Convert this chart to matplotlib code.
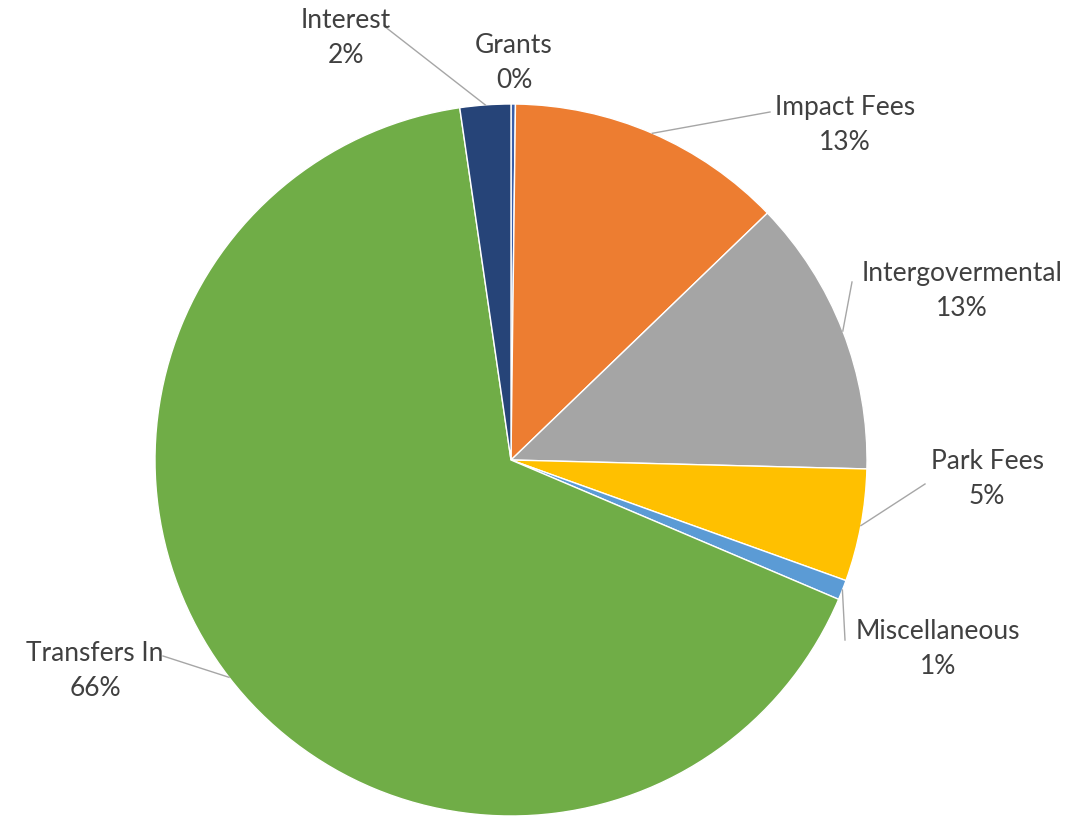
import matplotlib.pyplot as plt
import numpy as np

# revenue sources, clockwise from 12 o'clock (percent of total)
sources = ["Grants", "Impact Fees", "Intergovermental", "Park Fees",
           "Miscellaneous", "Transfers In", "Interest"]
shares = [0.2, 12.6, 12.6, 5.1, 0.9, 66.3, 2.3]
colors = ["#3A5FA8", "#ED7D31", "#A5A5A5", "#FFC000",
          "#5B9BD5", "#70AD47", "#264478"]

# label layout in pixels: text block centre, leader end point (None = no leader)
W, H = 1092, 817
CX, CY, R = 511, 460, 356
label_xy = [(514, 63), (845, 125), (962, 291), (987, 479),
            (938, 649), (95, 671), (346, 38)]
leader_end = [None, (770, 112), (852, 282), (925, 484),
              (845, 640), (163, 656), (384, 26)]


def to_data(p):
    return ((p[0] - CX) / R, (CY - p[1]) / R)


fig = plt.figure(figsize=(W / 100, H / 100), dpi=100)
ax = fig.add_axes([(CX - R) / W, (H - CY - R) / H, 2 * R / W, 2 * R / H])

wedges, _ = ax.pie(shares, colors=colors, startangle=90, counterclock=False,
                   radius=1.0, wedgeprops=dict(edgecolor="white", linewidth=1.0))
ax.set_xlim(-1, 1)
ax.set_ylim(-1, 1)
ax.set_aspect("equal")
ax.axis("off")

total = sum(shares)
for w, name, val, lxy, lend in zip(wedges, sources, shares, label_xy, leader_end):
    pct = f"{round(100 * val / total):.0f}%"
    tx, ty = to_data(lxy)
    ax.text(tx, ty, f"{name}\n{pct}", ha="center", va="center",
            fontsize=19, family="Lato", color="#404040", linespacing=1.5,
            clip_on=False)
    if lend is not None:
        mid = np.deg2rad((w.theta1 + w.theta2) / 2)
        sx, sy = np.cos(mid), np.sin(mid)
        ex, ey = to_data(lend)
        ax.plot([sx, ex], [sy, ey], color="#A6A6A6", lw=1.0, clip_on=False)

fig.savefig("out.png", dpi=100, facecolor="white")
